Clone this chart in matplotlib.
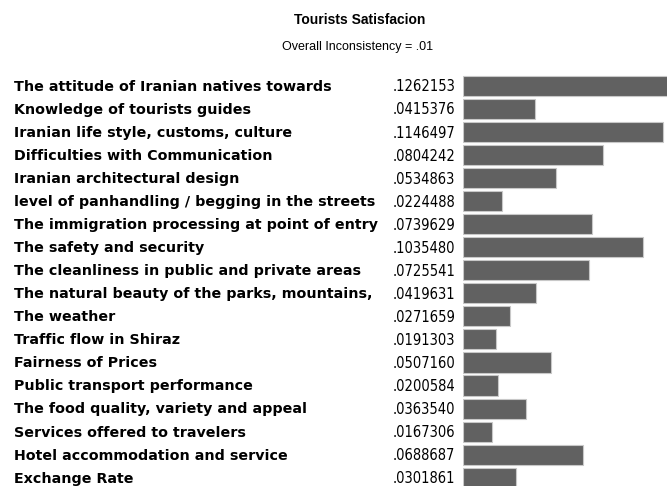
import matplotlib
matplotlib.use("Agg")
import matplotlib.pyplot as plt
import matplotlib.transforms as mtransforms

labels = [
    "The attitude of Iranian natives towards",
    "Knowledge of tourists guides",
    "Iranian life style, customs, culture",
    "Difficulties with Communication",
    "Iranian architectural design",
    "level of panhandling / begging in the streets",
    "The immigration processing at point of entry",
    "The safety and security",
    "The cleanliness in public and private areas",
    "The natural beauty of the parks, mountains,",
    "The weather",
    "Traffic flow in Shiraz",
    "Fairness of Prices",
    "Public transport performance",
    "The food quality, variety and appeal",
    "Services offered to travelers",
    "Hotel accommodation and service",
    "Exchange Rate",
]
weights = [0.1262153, 0.0415376, 0.1146497, 0.0804242, 0.0534863, 0.0224488,
           0.0739629, 0.1035480, 0.0725541, 0.0419631, 0.0271659, 0.0191303,
           0.0507160, 0.0200584, 0.0363540, 0.0167306, 0.0688687, 0.0301861]
weight_text = [".1262153", ".0415376", ".1146497", ".0804242", ".0534863", ".0224488",
               ".0739629", ".1035480", ".0725541", ".0419631", ".0271659", ".0191303",
               ".0507160", ".0200584", ".0363540", ".0167306", ".0688687", ".0301861"]

W, H = 667, 486
fig = plt.figure(figsize=(W / 100, H / 100), dpi=100)
fig.patch.set_facecolor("white")

# axes placed in pixels: bars start at x=463, rows every ~23 px from y=86
row = 23.04
top = 86 - row / 2
ax = fig.add_axes([463 / W, 1 - (top + 18 * row) / H, (W - 463) / W, 18 * row / H])
n = len(labels)
pos = list(range(n))
ax.barh(pos, weights, height=0.87, color="#616161", edgecolor="#c8c8c8", linewidth=0.8)
ax.set_xlim(0, (W - 463) / 1743)
ax.set_ylim(n - 0.5, -0.5)
ax.axis("off")

tr = mtransforms.blended_transform_factory(fig.transFigure, ax.transData)
for i in pos:
    ax.text(14 / W, i + 0.04, labels[i], transform=tr, ha="left", va="center",
            fontsize=10.3, fontweight="bold", family="DejaVu Sans",
            color="black", clip_on=False)
    ax.text(455 / W, i + 0.04, weight_text[i], transform=tr, ha="right", va="center",
            fontsize=10.5, family="DejaVu Sans", stretch="condensed",
            color="black", clip_on=False)

fig.text(360 / W, 1 - 20 / H, "Tourists Satisfacion", ha="center", va="center",
         fontsize=10, fontweight="bold", family="Liberation Sans")
fig.text(358 / W, 1 - 47 / H, "Overall Inconsistency = .01", ha="center", va="center",
         fontsize=9, family="Liberation Sans")

fig.savefig("out.png", dpi=100)
